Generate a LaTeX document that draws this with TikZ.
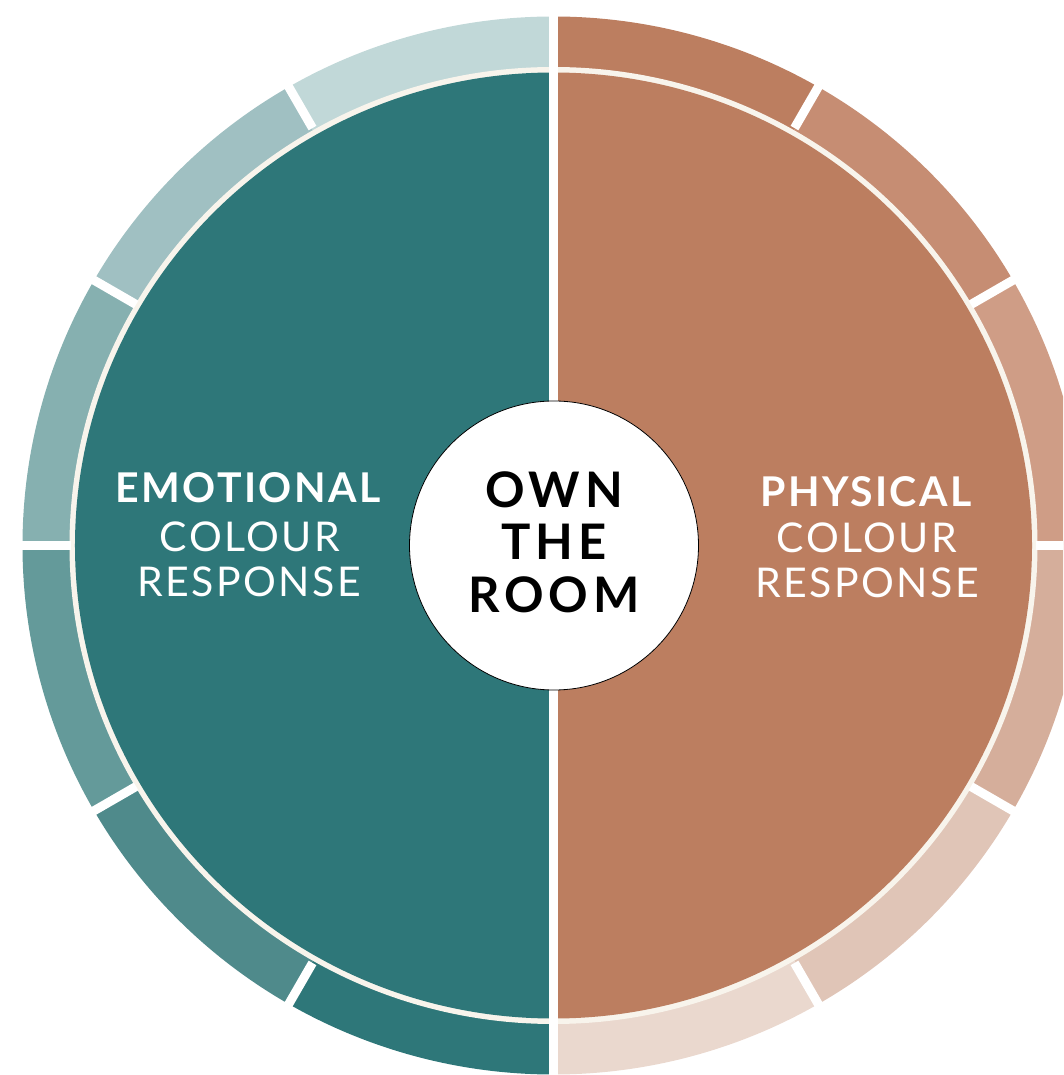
\documentclass[tikz,border=0pt]{standalone}
\usepackage{fontspec}
\setmainfont{Lato}
\newfontfamily\labfont[LetterSpace=6]{Lato}
\newfontfamily\ctrfont[LetterSpace=10]{Lato}
\definecolor{tealmain}{HTML}{2E7779}
\definecolor{terramain}{HTML}{BC7E60}
\definecolor{creamring}{HTML}{F8F4EC}
\definecolor{lA}{HTML}{C1D8D8}
\definecolor{lB}{HTML}{A0C0C2}
\definecolor{lC}{HTML}{86B0B0}
\definecolor{lD}{HTML}{649A9A}
\definecolor{lE}{HTML}{4F8A8B}
\definecolor{lF}{HTML}{2E7779}
\definecolor{rA}{HTML}{BC7E60}
\definecolor{rB}{HTML}{C68D73}
\definecolor{rC}{HTML}{CF9D86}
\definecolor{rD}{HTML}{D5AE9B}
\definecolor{rE}{HTML}{E0C5B7}
\definecolor{rF}{HTML}{EAD8CE}
\tikzset{
  gapline/.style={white, line width=9pt},
  boldlab/.style={anchor=base, text=white, font=\labfont\bfseries\fontsize{41}{41}\selectfont, inner sep=0pt},
  lightlab/.style={anchor=base, text=white, font=\labfont\fontsize{41}{41}\selectfont, inner sep=0pt},
  ctrlab/.style={anchor=base, text=black, font=\ctrfont\bfseries\fontsize{49}{49}\selectfont, inner sep=0pt},
}
\begin{document}
\begin{tikzpicture}[x=1pt,y=1pt]
\useasboundingbox (-553.5,-529.5) rectangle (509.5,545.5);
\clip (-553.5,-529.5) rectangle (509.5,545.5);
% outer ring sectors
\foreach \c [count=\i from 0] in {lA,lB,lC,lD,lE,lF}{
  \pgfmathsetmacro{\a}{90+30*\i}
  \fill[\c] (0,0) -- (\a:531 and 529) arc[start angle=\a, delta angle=30, x radius=531, y radius=529] -- cycle;
}
\foreach \c [count=\i from 0] in {rA,rB,rC,rD,rE,rF}{
  \pgfmathsetmacro{\a}{90-30*\i}
  \fill[\c] (0,0) -- (\a:531 and 529) arc[start angle=\a, delta angle=-30, x radius=531, y radius=529] -- cycle;
}
% cream ring
\fill[creamring] (0,0) ellipse[x radius=484, y radius=478.5];
% halves
\fill[tealmain] (0,0) -- (90:478.5 and 473) arc[start angle=90, end angle=270, x radius=478.5, y radius=473] -- cycle;
\fill[terramain] (0,0) -- (90:478.5 and 473) arc[start angle=90, end angle=-90, x radius=478.5, y radius=473] -- cycle;
% radial gaps
\foreach \a in {0,30,60,120,150,180,210,240,300,330}{
  \draw[gapline] (\a:482) -- (\a:545);
}
\coordinate (top) at (0,560);
\coordinate (bot) at (0,-560);
\draw[gapline, line width=9.5pt] (top) -- (bot);
% centre
\node[circle, draw=black, line width=0.8pt, fill=white, minimum size=289pt, inner sep=0pt] (hub) at (0.5,0) {};
\node[ctrlab] (own) at (0.5,38) {OWN};
\node[ctrlab] (the) at (0.5,-14) {THE};
\node[ctrlab] (room) at (0.5,-67) {ROOM};
% left labels
\node[boldlab] (emo) at (-305.5,43) {EMOTIONAL};
\node[lightlab] (lcol) at (-303.5,-6) {COLOUR};
\node[lightlab] (lresp) at (-304.5,-51) {RESPONSE};
% right labels
\node[boldlab] (phy) at (312.5,39) {PHYSICAL};
\node[lightlab] (rcol) at (313.5,-7) {COLOUR};
\node[lightlab] (rresp) at (313.5,-52) {RESPONSE};
\end{tikzpicture}
\end{document}
